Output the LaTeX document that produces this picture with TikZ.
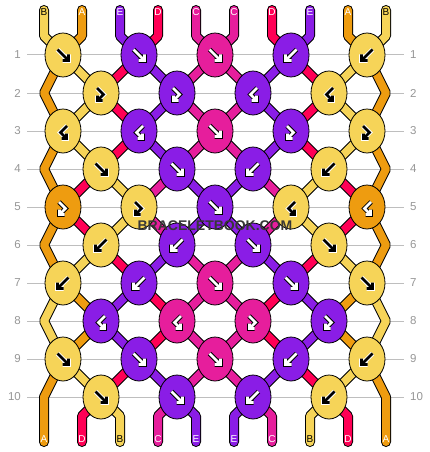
\documentclass[tikz,border=0pt]{standalone}
\usepackage{fontspec}
\setmainfont{Liberation Sans}
\usetikzlibrary{shapes.geometric,backgrounds}

% string colours, by letter
\definecolor{cA}{RGB}{238,156,16}
\definecolor{cB}{RGB}{246,212,88}
\definecolor{cC}{RGB}{230,30,156}
\definecolor{cD}{RGB}{255,0,85}
\definecolor{cE}{RGB}{138,29,230}
\definecolor{rowgrey}{RGB}{150,150,150}
\definecolor{linegrey}{RGB}{190,190,190}
\definecolor{wmgrey}{RGB}{55,55,55}
% arrow colour / halo, by knot colour
\colorlet{aA}{white}\colorlet{hA}{black}
\colorlet{aB}{black}\colorlet{hB}{white}
\colorlet{aC}{white}\colorlet{hC}{black}
\colorlet{aE}{white}\colorlet{hE}{black}
% label colour, by letter
\colorlet{lA}{white}\colorlet{lB}{black}\colorlet{lC}{white}\colorlet{lD}{white}\colorlet{lE}{white}

\begin{document}
\begin{tikzpicture}[x=1pt,y=-1pt,
  knot/.style={ellipse, draw=black, line width=0.8pt, minimum width=36pt, minimum height=44pt, inner sep=0pt},
  strand/.style={draw=black, line width=1pt, double=#1, double distance=8pt, line cap=round, line join=bevel},
  arrowhalo/.style={draw=arrowbg, line width=4.6pt, line join=miter},
  arrowline/.style={draw=arrowfg, line width=2.6pt, line join=miter},
  rownum/.style={text=rowgrey, font=\fontsize{11.5}{12}\selectfont, inner xsep=6pt, inner ysep=0pt},
  rowline/.style={draw=linegrey, line width=1pt},
  stublabel/.style={font=\fontsize{10}{10}\selectfont, inner sep=0pt},
  watermark/.style={font=\bfseries\fontsize{14}{14}\selectfont, text=wmgrey},
  pics/fwd/.style={code={
    \draw[arrowhalo] (-5.5,-5.5) -- (4.5,4.5) (5.5,-0.5) -- (5.5,5.5) -- (-0.5,5.5);
    \draw[arrowline] (-5.5,-5.5) -- (4.5,4.5) (5.5,-0.5) -- (5.5,5.5) -- (-0.5,5.5);}},
  pics/bwd/.style={code={
    \draw[arrowhalo] (5.5,-5.5) -- (-4.5,4.5) (-5.5,-0.5) -- (-5.5,5.5) -- (0.5,5.5);
    \draw[arrowline] (5.5,-5.5) -- (-4.5,4.5) (-5.5,-0.5) -- (-5.5,5.5) -- (0.5,5.5);}},
  pics/fb/.style={code={
    \draw[arrowhalo] (-4,-5) -- (2.5,1.5) -- (-2.5,6.5) (-3.5,2.5) -- (-3.5,7.5) -- (1.5,7.5);
    \draw[arrowline] (-4,-5) -- (2.5,1.5) -- (-2.5,6.5) (-3.5,2.5) -- (-3.5,7.5) -- (1.5,7.5);}},
  pics/bf/.style={code={
    \draw[arrowhalo] (4,-5) -- (-2.5,1.5) -- (2.5,6.5) (3.5,2.5) -- (3.5,7.5) -- (-1.5,7.5);
    \draw[arrowline] (4,-5) -- (-2.5,1.5) -- (2.5,6.5) (3.5,2.5) -- (3.5,7.5) -- (-1.5,7.5);}},
]
\useasboundingbox (0,0) rectangle (430,452);

% row numbers
\foreach \r in {1,...,10} {
  \pgfmathsetmacro{\ky}{55+38*(\r-1)}
  \node[rownum, anchor=east] (nl-\r) at (27,\ky) {\r};
  \node[rownum, anchor=west] (nr-\r) at (404,\ky) {\r};
}

% string ends and edge turns
\foreach \p in {0,...,9} {
  \pgfmathsetmacro{\kx}{44+38*\p}
  \coordinate (tt-\p) at (\kx,10);
  \coordinate (t-\p) at (\kx,36);
  \coordinate (b-\p) at (\kx,416);
  \coordinate (bb-\p) at (\kx,442);
}
\foreach \r in {2,4,...,10} {
  \coordinate (e-\r-L) at (44,{55+38*(\r-1)});
  \coordinate (e-\r-R) at (386,{55+38*(\r-1)});
}

% knots
\foreach \r/\row in {1/{B/fwd,E/fwd,C/fwd,E/bwd,B/bwd},
                     2/{B/fb,E/fb,E/bf,B/bf},
                     3/{B/bf,E/bf,C/fwd,E/fb,B/fb},
                     4/{B/fwd,E/fwd,E/bwd,B/bwd},
                     5/{A/fb,B/fb,E/fwd,B/bf,A/bf},
                     6/{B/bwd,E/bwd,E/fwd,B/fwd},
                     7/{B/bwd,E/bwd,C/fwd,E/fwd,B/fwd},
                     8/{E/bf,C/bf,C/fb,E/fb},
                     9/{B/fwd,E/fwd,C/fwd,E/bwd,B/bwd},
                     10/{B/fwd,E/fwd,E/bwd,B/bwd}} {
  \pgfmathsetmacro{\ky}{55+38*(\r-1)}
  \pgfmathsetmacro{\kx}{mod(\r,2)==1 ? 63 : 101}
  \foreach \col/\kind [count=\c] in \row {
    \colorlet{arrowfg}{a\col}\colorlet{arrowbg}{h\col}
    \node[knot, fill=c\col] (k-\r-\c) at ({\kx+76*(\c-1)},\ky) {};
    \edef\knotpic{\noexpand\pic at (k-\r-\c.center) {\kind};}\knotpic
  }
}

\begin{scope}[on background layer]
\foreach \r in {1,...,10}
  \draw[rowline] (nl-\r.east) -- (nr-\r.west);

% strings, left to right at the top
\draw[strand=cB] (tt-0) \foreach \n in {t-0,k-1-1.center,k-2-1.center,k-3-1.center,k-4-1.center,k-5-2.center,k-6-1.center,k-7-1.center,e-8-L,k-9-1.center,k-10-1.center,b-2,bb-2} {-- (\n)};
\draw[strand=cA] (tt-1) \foreach \n in {t-1,k-1-1.center,e-2-L,k-3-1.center,e-4-L,k-5-1.center,e-6-L,k-7-1.center,k-8-1.center,k-9-1.center,e-10-L,b-0,bb-0} {-- (\n)};
\draw[strand=cE] (tt-2) \foreach \n in {t-2,k-1-2.center,k-2-2.center,k-3-2.center,k-4-2.center,k-5-3.center,k-6-3.center,k-7-4.center,k-8-4.center,k-9-4.center,k-10-3.center,b-5,bb-5} {-- (\n)};
\draw[strand=cD] (tt-3) \foreach \n in {t-3,k-1-2.center,k-2-1.center,k-3-2.center,k-4-1.center,k-5-1.center,k-6-1.center,k-7-2.center,k-8-2.center,k-9-2.center,k-10-1.center,b-1,bb-1} {-- (\n)};
\draw[strand=cC] (tt-4) \foreach \n in {t-4,k-1-3.center,k-2-3.center,k-3-3.center,k-4-2.center,k-5-2.center,k-6-2.center,k-7-3.center,k-8-3.center,k-9-3.center,k-10-2.center,b-3,bb-3} {-- (\n)};
\draw[strand=cC] (tt-5) \foreach \n in {t-5,k-1-3.center,k-2-2.center,k-3-3.center,k-4-3.center,k-5-4.center,k-6-3.center,k-7-3.center,k-8-2.center,k-9-3.center,k-10-3.center,b-6,bb-6} {-- (\n)};
\draw[strand=cD] (tt-6) \foreach \n in {t-6,k-1-4.center,k-2-4.center,k-3-4.center,k-4-4.center,k-5-5.center,k-6-4.center,k-7-4.center,k-8-3.center,k-9-4.center,k-10-4.center,b-8,bb-8} {-- (\n)};
\draw[strand=cE] (tt-7) \foreach \n in {t-7,k-1-4.center,k-2-3.center,k-3-4.center,k-4-3.center,k-5-3.center,k-6-2.center,k-7-2.center,k-8-1.center,k-9-2.center,k-10-2.center,b-4,bb-4} {-- (\n)};
\draw[strand=cA] (tt-8) \foreach \n in {t-8,k-1-5.center,e-2-R,k-3-5.center,e-4-R,k-5-5.center,e-6-R,k-7-5.center,k-8-4.center,k-9-5.center,e-10-R,b-9,bb-9} {-- (\n)};
\draw[strand=cB] (tt-9) \foreach \n in {t-9,k-1-5.center,k-2-4.center,k-3-5.center,k-4-4.center,k-5-4.center,k-6-4.center,k-7-5.center,e-8-R,k-9-5.center,k-10-4.center,b-7,bb-7} {-- (\n)};
\end{scope}

% letters on the string ends
\foreach \l [count=\p from 0] in {B,A,E,D,C,C,D,E,A,B}
  \node[stublabel, text=l\l] (top-\p) at ({44+38*\p},12) {\l};
\foreach \l [count=\p from 0] in {A,D,B,C,E,E,C,B,D,A}
  \node[stublabel, text=l\l] (bot-\p) at ({44+38*\p},439) {\l};

\node[watermark] (mark) at (215,226) {BRACELETBOOK.COM};
\end{tikzpicture}
\end{document}
